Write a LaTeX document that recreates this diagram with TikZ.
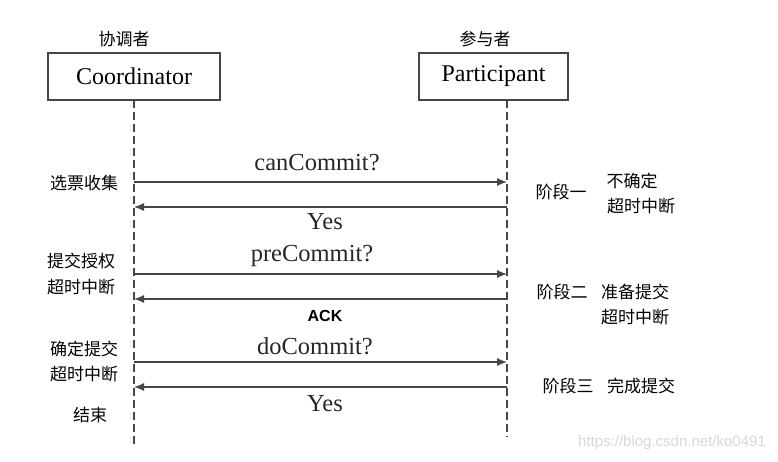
\documentclass[tikz,border=0pt]{standalone}
\usepackage{fontspec}
\setmainfont{Liberation Serif}
\newfontfamily\cjk{Noto Sans CJK SC}
\newfontfamily\latsans{Liberation Sans}
\usetikzlibrary{arrows.meta}
\definecolor{linegray}{RGB}{70,70,70}
\definecolor{wmgray}{RGB}{215,215,215}
\tikzset{
  actor/.style={draw=linegray, line width=1.1pt, minimum width=#1, minimum height=47pt, inner sep=0pt, font=\fontsize{24}{26}\selectfont},
  cn/.style={font=\cjk\fontsize{17}{20}\selectfont, inner sep=0pt, text=black},
  msg/.style={font=\fontsize{24.5}{27}\selectfont, inner sep=0pt, text=black!85},
  lifeline/.style={draw=linegray, line width=1.2pt, dash pattern=on 8pt off 4pt},
  arr/.style={draw=linegray, line width=1.2pt, -{Latex[length=10pt,width=8pt]}},
}
\begin{document}
\begin{tikzpicture}[x=1pt,y=-1pt]
\useasboundingbox (0,0) rectangle (778,461);
% actors
\node[actor=172pt] (coord) at (134,76.5) {Coordinator};
\node[actor=149pt] (part) at (493.5,76.5) {Participant};
\node[cn] (lc) at (124,39) {协调者};
\node[cn] (lp) at (485,39) {参与者};
% lifeline ends
\coordinate (cend) at (134,447);
\coordinate (pend) at (507,437);
\coordinate (ctop) at (134,100);
\coordinate (ptop) at (507,100);
\draw[lifeline] (ctop) -- (cend);
\draw[lifeline] (ptop) -- (pend);
% message points
\coordinate (c1) at (134,182); \coordinate (p1) at (507,182);
\coordinate (c2) at (134,207); \coordinate (p2) at (507,207);
\coordinate (c3) at (134,274); \coordinate (p3) at (507,274);
\coordinate (c4) at (134,299); \coordinate (p4) at (507,299);
\coordinate (c5) at (134,362); \coordinate (p5) at (507,362);
\coordinate (c6) at (134,387); \coordinate (p6) at (507,387);
\draw[arr] (c1) -- (p1);
\draw[arr] (p2) -- (c2);
\draw[arr] (c3) -- (p3);
\draw[arr] (p4) -- (c4);
\draw[arr] (c5) -- (p5);
\draw[arr] (p6) -- (c6);
% message labels
\node[msg] (m1) at (317,163) {canCommit?};
\node[msg] (m2) at (325,222) {Yes};
\node[msg] (m3) at (312,256) {preCommit?};
\node[font=\latsans\bfseries\fontsize{16}{18}\selectfont, inner sep=0pt] (m4) at (325,316) {ACK};
\node[msg] (m5) at (315,346) {doCommit?};
\node[msg] (m6) at (325,404) {Yes};
% left labels
\node[cn] (l1) at (84,183) {选票收集};
\node[cn] (l2) at (81,261) {提交授权};
\node[cn] (l3) at (81,287) {超时中断};
\node[cn] (l4) at (84,349) {确定提交};
\node[cn] (l5) at (84,374) {超时中断};
\node[cn] (l6) at (90,415) {结束};
% right labels
\node[cn] (r1) at (561,192) {阶段一};
\node[cn] (r2) at (632,181) {不确定};
\node[cn] (r3) at (641,206) {超时中断};
\node[cn] (r4) at (562,292) {阶段二};
\node[cn] (r5) at (635,292) {准备提交};
\node[cn] (r6) at (635,317) {超时中断};
\node[cn] (r7) at (568,386) {阶段三};
\node[cn] (r8) at (641,386) {完成提交};
% watermark
\node[font=\latsans\fontsize{15}{17}\selectfont, text=wmgray, inner sep=0pt] (wm) at (672,443) {https://blog.csdn.net/ko0491};
\end{tikzpicture}
\end{document}
